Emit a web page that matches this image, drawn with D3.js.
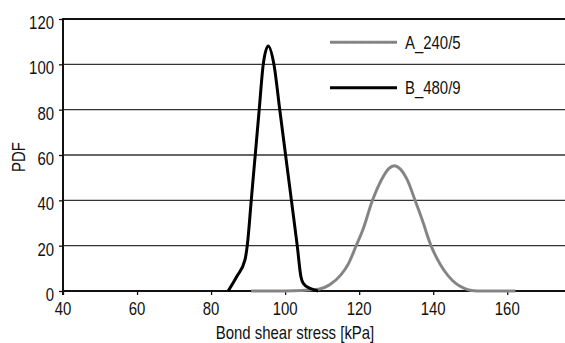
<!DOCTYPE html>
<html><head><meta charset="utf-8">
<script src="https://cdn.jsdelivr.net/npm/d3@7"></script>
<style>body{margin:0;background:#fff}svg{display:block}</style>
</head><body>
<svg id="c" width="565" height="343"></svg>
<script>
const xTicks = [40, 60, 80, 100, 120, 140, 160];
const yTicks = [0, 20, 40, 60, 80, 100, 120];
const seriesNames = ["A_240/5", "B_480/9"];
const seriesA = [[90.8,0],[100,0],[109,0.8],[112,2.7],[115,7],[117,11.7],[119.2,20],[121,27],[123.6,40],[126,49],[128,54],[129.5,55.3],[131,54],[133,49],[135.1,40],[137,31.5],[139.4,20],[142,11.5],[144,6.8],[146,3.5],[148,1.5],[150,0.3],[152,0],[162.2,0]];
const seriesB = [[84.6,0],[86.9,6.3],[89.15,13.7],[89.77,20],[90.85,40],[91.57,53.4],[93.0,80],[94.09,100],[95.43,108.1],[96.97,100],[98.55,80],[100.64,53.4],[101.7,40],[103.27,20],[104.27,6.3],[104.9,3.4],[106.7,1.2],[108.9,0]];

const svg = d3.select("#c");
const x = d3.scaleLinear().domain([40, 175.6]).range([63, 565]);
const y = d3.scaleLinear().domain([0, 120]).range([291, 19]);
const FONT = "'Liberation Sans', Arial, sans-serif";
const SX = 0.83;

// gridlines
svg.append("g").selectAll("line").data(yTicks.filter(d => d > 0)).join("line")
  .attr("x1", 63).attr("x2", 565)
  .attr("y1", d => y(d)).attr("y2", d => y(d))
  .attr("stroke", d => d === 120 ? "#111" : "#333")
  .attr("stroke-width", d => d === 120 ? 2 : 1.3);

// axes
const xAxis = svg.append("g").attr("transform", "translate(0,291)")
  .call(d3.axisBottom(x).tickValues(xTicks).tickSize(4).tickFormat(""));
xAxis.select(".domain").remove();
xAxis.selectAll(".tick line").attr("stroke", "#111").attr("stroke-width", 1.3);
svg.append("line").attr("x1", 62).attr("x2", 565).attr("y1", 291).attr("y2", 291)
  .attr("stroke", "#111").attr("stroke-width", 1.8);

const yAxis = svg.append("g").attr("transform", "translate(63,0)")
  .call(d3.axisLeft(y).tickValues(yTicks).tickSize(4).tickFormat(""));
yAxis.select(".domain").remove();
yAxis.selectAll(".tick line").attr("stroke", "#111").attr("stroke-width", 1.3);
svg.append("line").attr("x1", 63).attr("x2", 63).attr("y1", 18).attr("y2", 295)
  .attr("stroke", "#111").attr("stroke-width", 2);

function label(px, py, txt, anchor, rot) {
  const g = svg.append("g").attr("transform", `translate(${px},${py})` + (rot ? ` rotate(${rot})` : "") + ` scale(${SX},1)`);
  g.append("text").attr("text-anchor", anchor).attr("font-family", FONT)
    .attr("font-size", 18).attr("fill", "#111").text(txt);
}
xTicks.forEach(t => label(x(t), 315, t, "middle"));
yTicks.forEach(t => label(54, y(t) + 10, t, "end"));
label(295, 338.5, "Bond shear stress [kPa]", "middle");
label(25, 157, "PDF", "middle", -90);

// lines
const line = d3.line().x(d => x(d[0])).y(d => y(d[1])).curve(d3.curveMonotoneX);
svg.append("path").datum(seriesA).attr("d", line).attr("fill", "none")
  .attr("stroke", "#8a8a8a").attr("stroke-width", 3);
svg.append("path").datum(seriesA).attr("d", line).attr("fill", "none")
  .attr("stroke", "#5e5e5e").attr("stroke-width", 1).attr("stroke-dasharray", "1,1").attr("opacity", 0.5);
svg.append("path").datum(seriesB).attr("d", line)
  .attr("fill", "none").attr("stroke", "#000").attr("stroke-width", 3).attr("stroke-linejoin", "round");

// legend
const legY = [42.3, 87.7];
seriesNames.forEach((n, i) => {
  svg.append("line").attr("x1", 330).attr("x2", 397).attr("y1", legY[i]).attr("y2", legY[i])
    .attr("stroke", i === 0 ? "#8a8a8a" : "#000").attr("stroke-width", 3);
  if (i === 0) svg.append("line").attr("x1", 330).attr("x2", 397).attr("y1", legY[i]).attr("y2", legY[i])
    .attr("stroke", "#5e5e5e").attr("stroke-width", 1).attr("stroke-dasharray", "1,1").attr("opacity", 0.5);
  label(405, legY[i] + 6.3, n, "start");
});
</script>
</body></html>
